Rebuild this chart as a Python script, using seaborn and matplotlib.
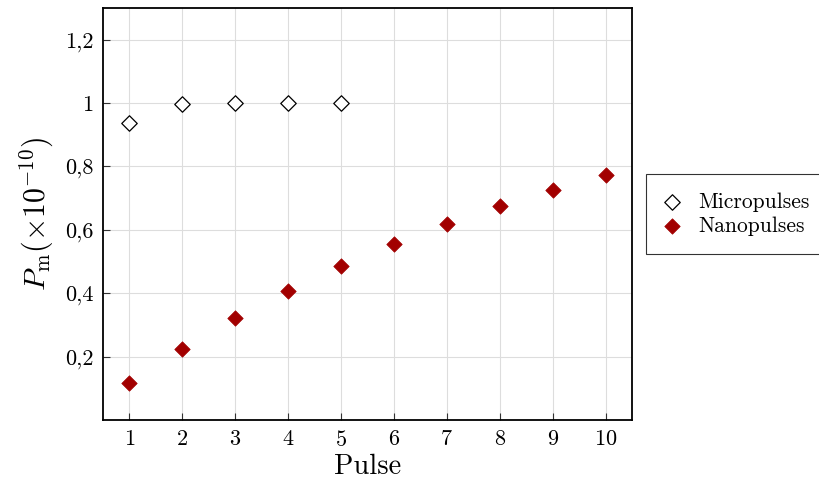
import numpy as np
import pandas as pd
import seaborn as sns
import matplotlib.pyplot as plt
from matplotlib.ticker import FuncFormatter

# data
pulse_micro = [1, 2, 3, 4, 5]
p_micro = [0.937, 0.996, 1.0, 1.0, 1.0]
pulse_nano = [1, 2, 3, 4, 5, 6, 7, 8, 9, 10]
p_nano = [0.118, 0.225, 0.321, 0.407, 0.485, 0.556, 0.619, 0.676, 0.727, 0.774]
y_ticks = [0.2, 0.4, 0.6, 0.8, 1.0, 1.2]

sns.set_style('whitegrid')
plt.rcParams['font.family'] = ['cmr10', 'DejaVu Serif']
plt.rcParams['mathtext.fontset'] = 'cm'
plt.rcParams['axes.formatter.use_mathtext'] = True
plt.rcParams['text.color'] = 'black'
plt.rcParams['axes.labelcolor'] = 'black'

df_micro = pd.DataFrame({'Pulse': pulse_micro, 'P': p_micro})
df_nano = pd.DataFrame({'Pulse': pulse_nano, 'P': p_nano})

fig = plt.figure(figsize=(8.2, 4.82), dpi=100)
ax = fig.add_axes([0.1256, 0.1286, 0.6451, 0.8548])

sns.scatterplot(data=df_micro, x='Pulse', y='P', marker='D', s=62, color='white',
                edgecolor='black', linewidth=0.9, label='Micropulses', ax=ax, zorder=3)
sns.scatterplot(data=df_nano, x='Pulse', y='P', marker='D', s=62, color='#a20000',
                edgecolor='#a20000', linewidth=0.5, label='Nanopulses', ax=ax, zorder=3)

ax.set_xlim(0.5, 10.5)
ax.set_ylim(0, 1.3)
ax.set_xticks(pulse_nano)
ax.set_yticks(y_ticks)
ax.yaxis.set_major_formatter(FuncFormatter(lambda v, p: ('%g' % round(v, 1)).replace('.', ',')))
ax.tick_params(direction='in', length=5, width=0.8, color='#333333', labelcolor='black',
               labelsize=16, pad=7, bottom=True, left=True)
ax.grid(True, color='#dddddd', linewidth=0.8)
for s in ax.spines.values():
    s.set_color('black')
    s.set_linewidth(1.3)

ax.set_xlabel('Pulse', fontsize=20.5, labelpad=3)
ax.set_ylabel(r'$P_\mathrm{m}(\times10^{-10})$', fontsize=21.5, labelpad=6)

leg = ax.legend(loc='center left', bbox_to_anchor=(1.026, 0.5), borderaxespad=0,
                fontsize=15.5, frameon=True, fancybox=False, edgecolor='black',
                borderpad=0.85, handletextpad=0.9, labelspacing=0.2, handlelength=0.7)
leg.get_frame().set_linewidth(0.8)

plt.savefig('out.png', dpi=100)
